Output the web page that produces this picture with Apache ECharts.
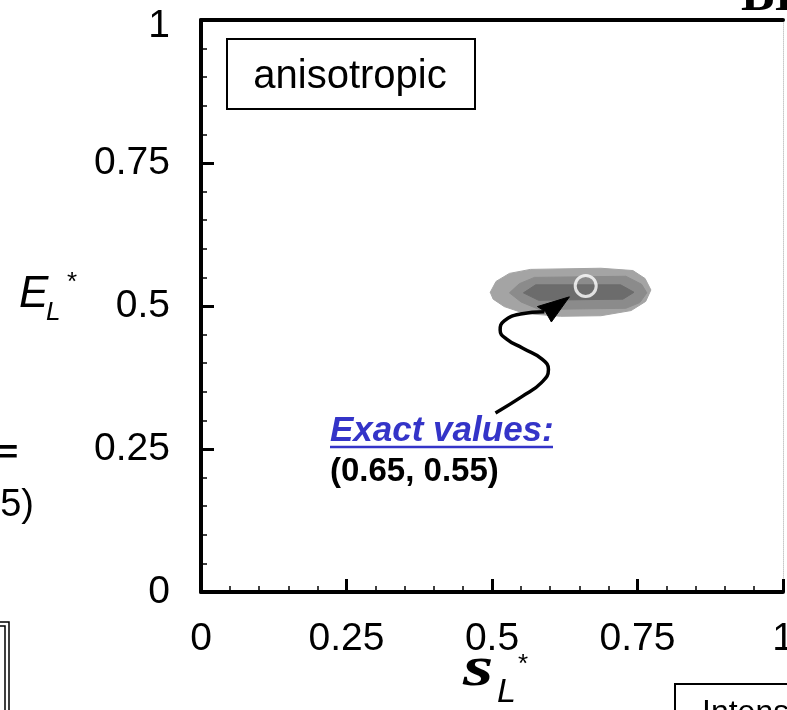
<!DOCTYPE html>
<html>
<head>
<meta charset="utf-8">
<script src="https://cdn.jsdelivr.net/npm/echarts@6/dist/echarts.min.js"></script>
<style>html,body{margin:0;padding:0;background:#fff;}#c{width:787px;height:710px;}</style>
</head>
<body>
<div id="c"></div>
<script>
// ---- data (s_L*, E_L*) ----
var xTicks = [0, 0.25, 0.5, 0.75, 1];
var yTicks = [0, 0.25, 0.5, 0.75, 1];
// contour levels of the intensity map (outer -> inner)
var contourOuter = [[0.497,0.524],[0.507,0.543],[0.530,0.557],[0.566,0.564],[0.687,0.566],[0.742,0.562],[0.763,0.548],[0.773,0.528],[0.764,0.508],[0.739,0.492],[0.687,0.483],[0.618,0.482],[0.556,0.487],[0.521,0.499],[0.502,0.512]];
var contourMiddle = [[0.530,0.523],[0.547,0.539],[0.573,0.550],[0.730,0.552],[0.757,0.538],[0.766,0.523],[0.754,0.506],[0.730,0.496],[0.581,0.494],[0.550,0.507]];
var contourInner = [[0.554,0.523],[0.575,0.537],[0.721,0.537],[0.744,0.524],[0.725,0.512],[0.580,0.510]];
var estimatePoint = [[0.661, 0.535]];
// annotation arrow path (data coordinates)
var arrowPath = [[0.506,0.313],[0.552,0.342],[0.585,0.366],[0.597,0.389],[0.586,0.407],[0.553,0.426],[0.524,0.443],[0.514,0.458],[0.521,0.474],[0.549,0.486],[0.590,0.490]];
var arrowHead = [[0.633,0.516],[0.578,0.499],[0.592,0.490],[0.602,0.472]];

var contourColors = ['#a4a4a4', '#8b8b8b', '#6c6c6c'];

function polySeries(points, color, z) {
  return {
    type: 'custom',
    coordinateSystem: 'cartesian2d',
    silent: true,
    z: z,
    data: [points[0]],
    renderItem: function (params, api) {
      return {
        type: 'polygon',
        shape: { points: points.map(function (p) { return api.coord(p); }) },
        style: { fill: color, stroke: color, lineWidth: 1 }
      };
    }
  };
}

var chart = echarts.init(document.getElementById('c'), null, { renderer: 'canvas' });
var labelFont = { fontFamily: 'Liberation Sans, Arial, sans-serif', fontSize: 39, color: '#000' };

function txt(text, x, y, font, opts) {
  opts = opts || {};
  return {
    type: 'text', x: x, y: y, scaleX: opts.sx || 1, scaleY: opts.sy || 1, z: 100,
    style: {
      text: text, font: font, fill: opts.fill || '#000',
      textAlign: opts.align || 'left', align: opts.align || 'left',
      textVerticalAlign: 'middle', verticalAlign: 'middle'
    }
  };
}
function fmt(v) { return String(+v.toFixed(2)); }

var option = {
  animation: false,
  backgroundColor: '#fff',
  grid: { left: 201, right: 4, top: 20, bottom: 118, containLabel: false, outerBoundsMode: 'none' },
  xAxis: [{
    type: 'value', min: 0, max: 1, interval: 0.25,
    axisLine: { show: true, onZero: false, lineStyle: { color: '#000', width: 4 } },
    axisTick: { show: true, inside: true, length: 13, lineStyle: { color: '#000', width: 3 } },
    minorTick: { show: true, splitNumber: 5, length: 6, lineStyle: { color: '#000', width: 1.5 } },
    axisLabel: Object.assign({ margin: 28, showMinLabel: true, showMaxLabel: true, hideOverlap: false,
      alignMinLabel: 'center', alignMaxLabel: 'center', formatter: fmt }, labelFont),
    splitLine: { show: false }
  }, {
    type: 'value', min: 0, max: 1, position: 'top',
    axisLine: { show: true, onZero: false, lineStyle: { color: '#000', width: 4 } },
    axisTick: { show: false }, axisLabel: { show: false }, splitLine: { show: false }
  }],
  yAxis: [{
    type: 'value', min: 0, max: 1, interval: 0.25,
    axisLine: { show: true, onZero: false, lineStyle: { color: '#000', width: 4 } },
    axisTick: { show: true, inside: true, length: 13, lineStyle: { color: '#000', width: 3 } },
    minorTick: { show: true, splitNumber: 5, length: 6, lineStyle: { color: '#000', width: 1.5 } },
    axisLabel: Object.assign({ margin: 31, showMinLabel: true, showMaxLabel: true, hideOverlap: false,
      verticalAlignMinLabel: 'middle', verticalAlignMaxLabel: 'middle',
      formatter: function (v) { return v === 1 ? '{t|1}' : fmt(v); },
      rich: { t: { fontFamily: 'Liberation Sans, Arial, sans-serif', fontSize: 39, color: '#000', padding: [12, 0, 0, 0] } }
    }, labelFont),
    splitLine: { show: false }
  }, {
    type: 'value', min: 0, max: 1, position: 'right',
    axisLine: { show: true, onZero: false, lineStyle: { color: '#c8c8c8', width: 1, type: 'dotted' } },
    axisTick: { show: false }, axisLabel: { show: false }, splitLine: { show: false }
  }],
  series: [
    polySeries(contourOuter, contourColors[0], 2),
    polySeries(contourMiddle, contourColors[1], 3),
    polySeries(contourInner, contourColors[2], 4),
    {
      type: 'scatter', data: estimatePoint, symbol: 'circle', symbolSize: 21, z: 6,
      itemStyle: { color: 'rgba(0,0,0,0)', borderColor: '#fff', borderWidth: 3 }, silent: true
    },
    {
      type: 'line', data: arrowPath, smooth: 0.5, showSymbol: false, symbol: 'none', z: 7, silent: true,
      lineStyle: { color: '#000', width: 3.5 }
    },
    polySeries(arrowHead, '#000', 8)
  ],
  graphic: [
    { type: 'rect', z: 90, shape: { x: 227, y: 39, width: 248, height: 70 }, style: { fill: '#fff', stroke: '#000', lineWidth: 2 } },
    txt('anisotropic', 350, 77, '40px "Liberation Sans", Arial, sans-serif', { align: 'center' }),
    txt('Exact values:', 330, 431, 'italic bold 35px "Liberation Sans", Arial, sans-serif', { fill: '#3434c8' }),
    { type: 'line', z: 100, shape: { x1: 330, y1: 447, x2: 553, y2: 447 }, style: { stroke: '#3434c8', lineWidth: 2.5 } },
    txt('(0.65, 0.55)', 330, 472, 'bold 33px "Liberation Sans", Arial, sans-serif'),
    // y-axis title E_L*
    txt('E', 19, 295, 'italic 44px "Liberation Sans", Arial, sans-serif'),
    txt('L', 46, 313, 'italic 26px "Liberation Sans", Arial, sans-serif'),
    txt('*', 67, 283, '26px "Liberation Sans", Arial, sans-serif'),
    // x-axis title s_L*
    txt('s', 463, 670, 'bold italic 58px "Liberation Serif", "Times New Roman", serif', { sx: 1.35 }),
    txt('L', 497, 693, 'italic 34px "Liberation Sans", Arial, sans-serif'),
    txt('*', 518, 665, '26px "Liberation Sans", Arial, sans-serif'),
    // neighbouring panel fragments
    txt('=', 18, 454, 'bold 34px "Liberation Sans", Arial, sans-serif', { align: 'right' }),
    txt('5)', 34, 506, '38px "Liberation Sans", Arial, sans-serif', { align: 'right' }),
    { type: 'rect', z: 90, shape: { x: -20, y: 622, width: 29, height: 120 }, style: { fill: 'none', stroke: '#000', lineWidth: 1.5 } },
    { type: 'rect', z: 90, shape: { x: -20, y: 626, width: 25, height: 120 }, style: { fill: 'none', stroke: '#000', lineWidth: 1.5 } },
    { type: 'rect', z: 90, shape: { x: 675, y: 684, width: 200, height: 60 }, style: { fill: '#fff', stroke: '#000', lineWidth: 2 } },
    txt('Intensity', 702, 713, '32px "Liberation Sans", Arial, sans-serif'),
    txt('BI', 741, -3, 'bold 50px "Liberation Serif", "Times New Roman", serif')
  ]
};
chart.setOption(option);
</script>
</body>
</html>
